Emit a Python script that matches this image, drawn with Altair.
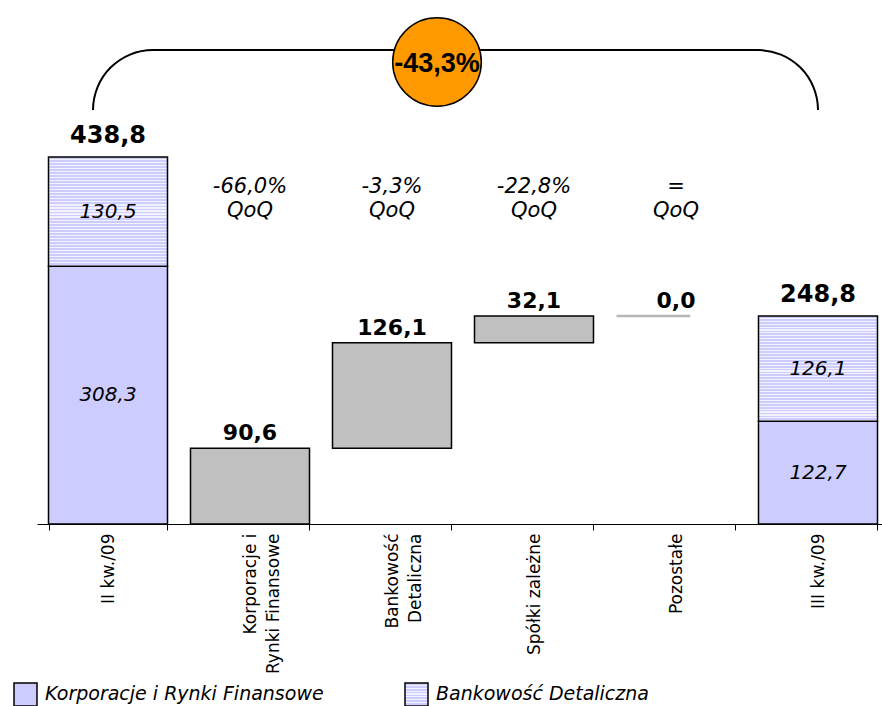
import altair as alt
import pandas as pd
import math

# ---- data ----
categories = ["II kw./09", "Korporacje i\nRynki Finansowe", "Bankowość\nDetaliczna",
              "Spółki zależne", "Pozostałe", "III kw./09"]
series_names = ["Korporacje i Rynki Finansowe", "Bankowość Detaliczna"]
total_cats = ["II kw./09", "III kw./09"]
korp_values = [308.3, 122.7]
bank_values = [130.5, 126.1]
total_values = [438.8, 248.8]
change_cats = ["Korporacje i\nRynki Finansowe", "Bankowość\nDetaliczna", "Spółki zależne", "Pozostałe"]
change_values = [90.6, 126.1, 32.1, 0.0]
qoq_labels = ["-66,0%", "-3,3%", "-22,8%", "="]
overall_change = "-43,3%"


def fmt(v):
    return f"{v:.1f}".replace(".", ",")


FONT = "DejaVu Sans"
LAV = "#CCCCFF"
LIGHT = "#F2F2FF"
PADL = 37  # left padding; pixel annotations are relative to plot origin

# stacked totals
seg_rows = []
for c, k, b in zip(total_cats, korp_values, bank_values):
    seg_rows.append({"cat": c, "series": series_names[0], "start": 0.0, "end": k, "label": fmt(k)})
    seg_rows.append({"cat": c, "series": series_names[1], "start": k, "end": k + b, "label": fmt(b)})
seg_df = pd.DataFrame(seg_rows)
tot_df = pd.DataFrame({"cat": total_cats, "total": total_values,
                       "label": [fmt(v) for v in total_values]})

# waterfall changes
starts = []
acc = 0.0
for v in change_values:
    starts.append(acc)
    acc += v
chg_df = pd.DataFrame({"cat": change_cats, "start": starts,
                       "end": [s + v for s, v in zip(starts, change_values)],
                       "label": [fmt(v) for v in change_values],
                       "qoq": [q + "\nQoQ" for q in qoq_labels]})
bar_chg = chg_df[chg_df["end"] > chg_df["start"]]
zero_chg = chg_df[chg_df["end"] == chg_df["start"]]


def stripes(n):
    stops = []
    for i in range(n):
        a = i / n
        b = (i + 0.62) / n
        e = (i + 1) / n
        stops += [{"offset": a, "color": LAV}, {"offset": b, "color": LAV},
                  {"offset": b, "color": LIGHT}, {"offset": e, "color": LIGHT}]
    return {"gradient": "linear", "x1": 0, "x2": 0, "y1": 0, "y2": 1, "stops": stops}


x_scale = alt.Scale(domain=categories, range=[0, 852], paddingInner=0.162, paddingOuter=0.081)
x_enc = alt.X("cat:N", sort=categories, title=None, scale=x_scale,
              axis=alt.Axis(labelAngle=270, labelAlign="right", labelBaseline="middle",
                            labelFont=FONT, labelFontSize=17, labelColor="black",
                            labelExpr="split(datum.label, '\\n')", labelLineHeight=23,
                            labelPadding=3, tickBand="extent", tickColor="black", tickSize=6,
                            domainColor="black", domainWidth=1.2, ticks=True, grid=False))
y_scale = alt.Scale(domain=[0, 626.5], nice=False, zero=True)
y_enc = alt.Y("start:Q", scale=y_scale, axis=None)

korp_layer = alt.Chart(seg_df[seg_df["series"] == series_names[0]]).mark_bar(
    fill=LAV, stroke="black", strokeWidth=1.5).encode(x=x_enc, y=y_enc, y2="end:Q")
bank_layer = alt.Chart(seg_df[seg_df["series"] == series_names[1]]).mark_bar(
    fill=stripes(36), stroke="black", strokeWidth=1.5).encode(x=x_enc, y=y_enc, y2="end:Q")

seg_text = alt.Chart(seg_df).transform_calculate(mid="(datum.start + datum.end) / 2").mark_text(
    font=FONT, fontSize=20, fontStyle="italic", baseline="middle", color="black").encode(
    x=x_enc, y=alt.Y("mid:Q", scale=y_scale, axis=None), text="label:N")

tot_text = alt.Chart(tot_df).mark_text(
    font=FONT, fontSize=24, fontWeight="bold", baseline="alphabetic", dy=-14, color="black").encode(
    x=x_enc, y=alt.Y("total:Q", scale=y_scale, axis=None), text="label:N")

chg_bars = alt.Chart(bar_chg).mark_bar(fill="#C0C0C0", stroke="black", strokeWidth=1.5).encode(
    x=x_enc, y=y_enc, y2="end:Q")

zero_rule = alt.Chart(zero_chg).mark_rule(color="#B8B8B8", strokeWidth=2.5).encode(
    x=alt.X("cat:N", sort=categories, bandPosition=0, scale=x_scale),
    x2=alt.X2("cat", bandPosition=0.62),
    y=alt.Y("end:Q", scale=y_scale, axis=None))

chg_text = alt.Chart(chg_df).mark_text(
    font=FONT, fontSize=22, fontWeight="bold", baseline="alphabetic", dy=-8, color="black").encode(
    x=x_enc, y=alt.Y("end:Q", scale=y_scale, axis=None), text="label:N")

qoq_text = alt.Chart(chg_df).mark_text(
    font=FONT, fontSize=21, fontStyle="italic", baseline="middle", lineBreak="\n",
    lineHeight=24, color="black").encode(x=x_enc, y=alt.value(187), text="qoq:N")

# ---- bracket + circle annotation ----
ann = alt.Chart(pd.DataFrame({"t": [overall_change]}))
arc_l = ann.mark_arc(radius=61, radius2=59, theta=1.5 * math.pi, theta2=2 * math.pi, color="black").encode(
    x=alt.value(153 - PADL), y=alt.value(110))
arc_r = ann.mark_arc(radius=61, radius2=59, theta=0, theta2=0.5 * math.pi, color="black").encode(
    x=alt.value(758 - PADL), y=alt.value(110))
hline = ann.mark_rule(color="black", strokeWidth=2).encode(
    x=alt.value(153 - PADL), x2=alt.value(758 - PADL), y=alt.value(50))
circle = ann.mark_point(shape="circle", size=math.pi * 50 * 50, filled=True, fill="#FF9900",
                        stroke="black", strokeWidth=1.5, opacity=1).encode(
    x=alt.value(437 - PADL), y=alt.value(62))
circle_text = ann.mark_text(font="Liberation Sans", fontSize=27, fontWeight="bold",
                            baseline="middle", color="black").encode(
    x=alt.value(437 - PADL), y=alt.value(64), text="t:N")

# ---- legend ----
leg = alt.Chart(pd.DataFrame({"name": series_names}))
leg_box1 = leg.transform_filter(alt.datum.name == series_names[0]).mark_rect(
    fill=LAV, stroke="black", strokeWidth=1.5).encode(
    x=alt.value(14 - PADL), x2=alt.value(37 - PADL), y=alt.value(683), y2=alt.value(706))
leg_box2 = leg.transform_filter(alt.datum.name == series_names[1]).mark_rect(
    fill=stripes(8), stroke="black", strokeWidth=1.5).encode(
    x=alt.value(405 - PADL), x2=alt.value(428 - PADL), y=alt.value(683), y2=alt.value(706))
leg_t1 = leg.transform_filter(alt.datum.name == series_names[0]).mark_text(
    font=FONT, fontSize=19, fontStyle="italic", align="left", baseline="middle", color="black").encode(
    x=alt.value(45 - PADL), y=alt.value(694), text="name:N")
leg_t2 = leg.transform_filter(alt.datum.name == series_names[1]).mark_text(
    font=FONT, fontSize=19, fontStyle="italic", align="left", baseline="middle", color="black").encode(
    x=alt.value(436 - PADL), y=alt.value(694), text="name:N")

chart = alt.layer(
    korp_layer, bank_layer, chg_bars, zero_rule, seg_text, tot_text, chg_text, qoq_text,
    arc_l, arc_r, hline, circle, circle_text,
    leg_box1, leg_box2, leg_t1, leg_t2,
).properties(
    width=845, height=524,
    background="white",
    autosize=alt.AutoSizeParams(type="none"),
    padding={"left": PADL, "top": 0, "right": 0, "bottom": 182},
).configure_view(stroke=None)

chart.save("out.html", embed_options={"renderer": "svg", "actions": False})
